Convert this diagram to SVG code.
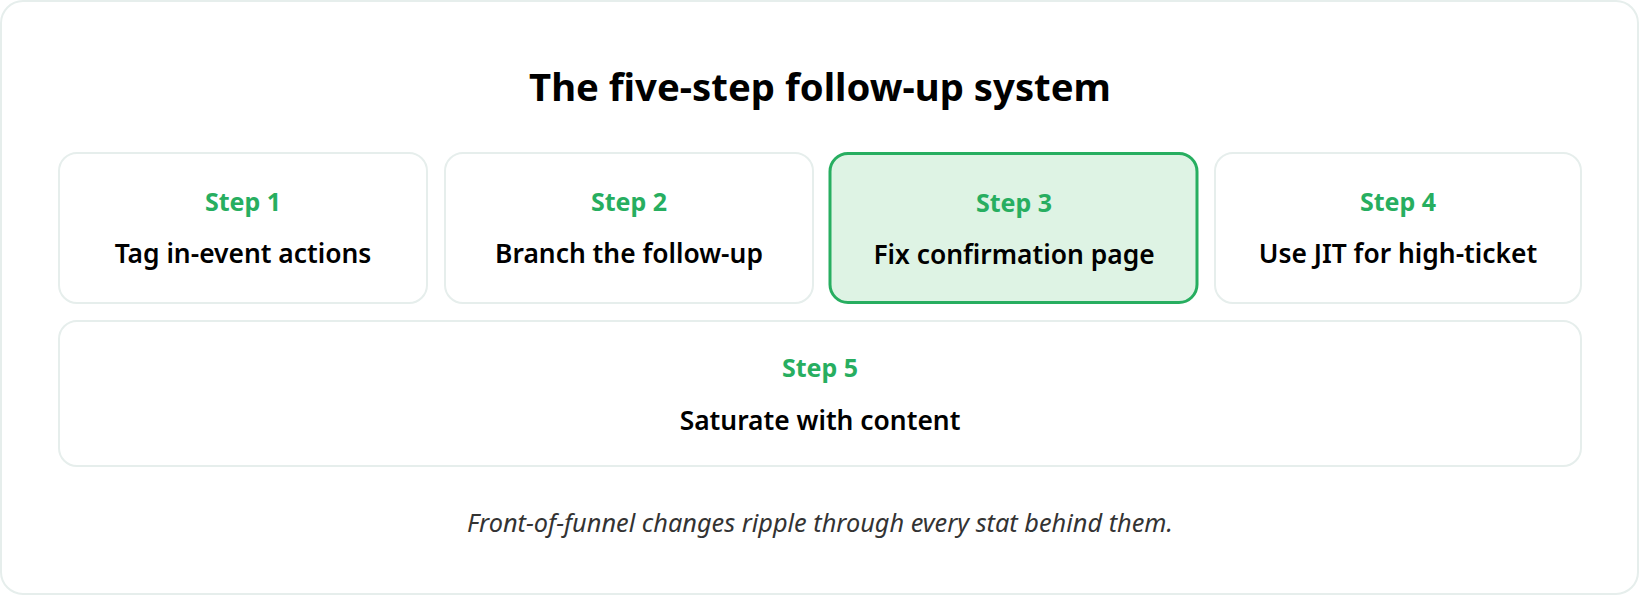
<svg xmlns="http://www.w3.org/2000/svg" width="1640" height="596" viewBox="0 0 1640 596">
<style>
.card{fill:#ffffff;stroke:#e6eeec;stroke-width:2}
.box{fill:#ffffff;stroke:#e6eeec;stroke-width:2}
.hl{fill:#def3e4;stroke:#27ae60;stroke-width:3}
.title{font-family:"Noto Sans","Open Sans",sans-serif;font-weight:700;font-size:38.3px;fill:#000;text-anchor:middle}
.step{font-family:"Noto Sans","Open Sans",sans-serif;font-weight:700;font-size:25px;fill:#27ae60;text-anchor:middle}
.lbl{font-family:"Noto Sans","Open Sans",sans-serif;font-weight:600;font-size:26.4px;fill:#000;text-anchor:middle}
.note{font-family:"Noto Sans","Open Sans",sans-serif;font-style:italic;font-size:25.3px;fill:#333;text-anchor:middle}
</style>
<rect width="1640" height="596" fill="#ffffff"/>
<rect class="card" x="1" y="1" width="1637" height="593" rx="22"/>
<text class="title" x="820" y="101">The five-step follow-up system</text>
<g id="step1">
<rect class="box" x="59" y="153" width="368" height="150" rx="18"/>
<text class="step" x="243" y="211">Step 1</text>
<text class="lbl" x="243" y="263">Tag in-event actions</text>
</g>
<g id="step2">
<rect class="box" x="445" y="153" width="368" height="150" rx="18"/>
<text class="step" x="629" y="211">Step 2</text>
<text class="lbl" x="629" y="263">Branch the follow-up</text>
</g>
<g id="step3">
<rect class="hl" x="830" y="153.5" width="367" height="149" rx="18"/>
<text class="step" x="1014" y="212">Step 3</text>
<text class="lbl" x="1014" y="264">Fix confirmation page</text>
</g>
<g id="step4">
<rect class="box" x="1215" y="153" width="366" height="150" rx="18"/>
<text class="step" x="1398" y="211">Step 4</text>
<text class="lbl" x="1398" y="263">Use JIT for high-ticket</text>
</g>
<g id="step5">
<rect class="box" x="59" y="321" width="1522" height="145" rx="18"/>
<text class="step" x="820" y="377">Step 5</text>
<text class="lbl" x="820" y="430">Saturate with content</text>
</g>
<g id="connectors"/>
<text class="note" x="820" y="532">Front-of-funnel changes ripple through every stat behind them.</text>
</svg>
